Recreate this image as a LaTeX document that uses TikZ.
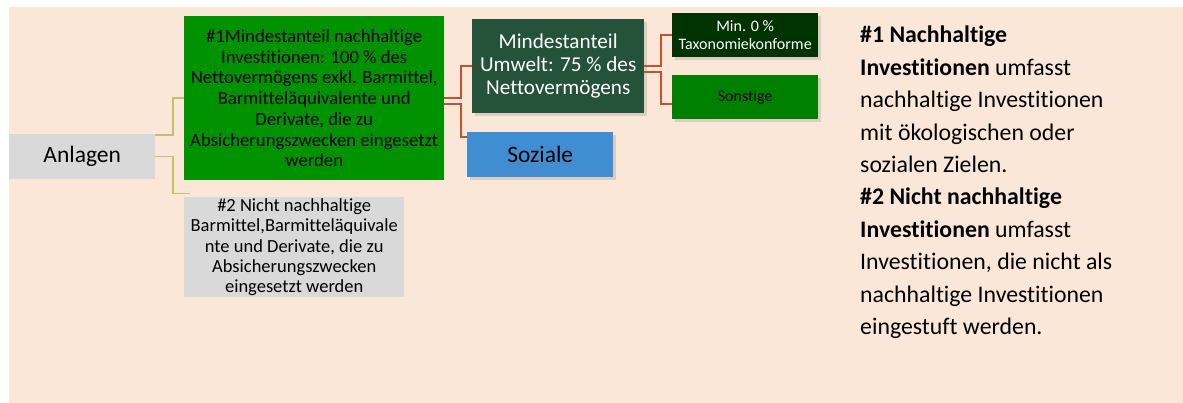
\documentclass[tikz,border=0pt]{standalone}
\usepackage{fontspec}
\setmainfont{Carlito}[Ligatures=NoCommon]
\usetikzlibrary{shadows}
\definecolor{bgbeige}{RGB}{250,231,215}
\definecolor{boxgrey}{RGB}{217,217,217}
\definecolor{gone}{RGB}{0,146,0}
\definecolor{gmind}{RGB}{37,83,58}
\definecolor{gmin}{RGB}{0,51,0}
\definecolor{gsons}{RGB}{0,128,0}
\definecolor{bsoz}{RGB}{64,141,209}
\definecolor{oliveln}{RGB}{200,190,110}
\definecolor{redln}{RGB}{200,80,50}
\begin{document}
\begin{tikzpicture}[x=1pt,y=-1pt,
  box/.style={rectangle,inner sep=0pt,anchor=north west,align=center},
  shad/.style={drop shadow={opacity=0.25,shadow xshift=2.5pt,shadow yshift=-2.5pt}},
  oline/.style={draw=oliveln,line width=1.6pt},
  rline/.style={draw=redln,line width=2pt}]
\useasboundingbox (0,0) rectangle (1183,403);
\fill[white] (0,0) rectangle (1183,403);
\fill[bgbeige] (9,7) rectangle (1183,403);
% nodes
\node[box,fill=boxgrey,minimum width=146pt,minimum height=45pt,font=\fontsize{23.5}{26}\selectfont] (anl) at (9,134) {Anlagen};
\node[box,fill=gone,minimum width=260pt,minimum height=164pt,font=\fontsize{18.7}{20.7}\selectfont] (g1) at (184,16)
 {\#1Mindestanteil nachhaltige\\Investitionen: 100 \% des\\Nettovermögens exkl. Barmittel,\\Barmitteläquivalente und\\Derivate, die zu\\Absicherungszwecken eingesetzt\\werden};
\node[box,fill=boxgrey,minimum width=220pt,minimum height=100pt,font=\fontsize{18.5}{20.25}\selectfont] (g2) at (184,197)
 {\#2 Nicht nachhaltige\\Barmittel,Barmitteläquivale\\nte und Derivate, die zu\\Absicherungszwecken\\eingesetzt werden};
\node[box,shad,fill=gmind,text=white,minimum width=172pt,minimum height=94pt,font=\fontsize{21.2}{23}\selectfont] (mind) at (472,19)
 {Mindestanteil\\Umwelt: 75 \% des\\Nettovermögens};
\node[box,shad,fill=bsoz,text=black,minimum width=146pt,minimum height=45pt,font=\fontsize{23.5}{26}\selectfont] (soz) at (467,132) {Soziale};
\node[box,shad,fill=gmin,text=white,minimum width=146pt,minimum height=44pt,font=\fontsize{16}{18}\selectfont] (minb) at (672,13)
 {Min. 0 \%\\Taxonomiekonforme};
\node[box,shad,fill=gsons,text=black,minimum width=146pt,minimum height=44pt,font=\fontsize{16}{18}\selectfont] (sons) at (672,75) {Sonstige};
% right text
\node[anchor=north west,inner sep=0pt,align=left,font=\fontsize{23.8}{32.4}\selectfont] (txt) at (860,26)
 {\textbf{\#1 Nachhaltige}\\\textbf{Investitionen} umfasst\\nachhaltige Investitionen\\mit ökologischen oder\\sozialen Zielen.\\\textbf{\#2 Nicht nachhaltige}\\\textbf{Investitionen} umfasst\\Investitionen, die nicht als\\nachhaltige Investitionen\\eingestuft werden.};
% connectors
\draw[oline] ([yshift=21.5pt]anl.east) -- ++(17.5,0) |- (g1.west);
\draw[oline] (anl.east) -- ++(17.5,0) |- ([xshift=6pt,yshift=3.5pt]g2.north west);
\draw[rline] (g1.east) -- ++(17,0) |- (mind.west);
\draw[rline] ([yshift=-5.5pt]g1.east) -- ++(17,0) |- ([yshift=18pt]soz.west);
\draw[rline] (mind.east) -- ++(17,0) |- (minb.west);
\draw[rline] ([yshift=-6pt]mind.east) -- ++(17,0) |- ([yshift=-7pt]sons.west);
\end{tikzpicture}
\end{document}
